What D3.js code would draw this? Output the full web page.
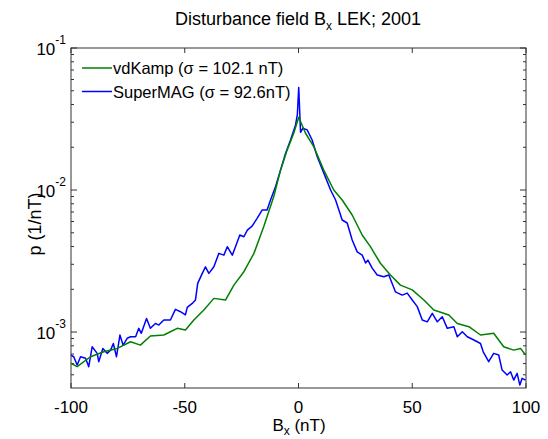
<!DOCTYPE html>
<html>
<head>
<meta charset="utf-8">
<script src="https://cdn.jsdelivr.net/npm/d3@7"></script>
<style>
  body { margin: 0; background: white; }
  text { font-family: "Liberation Sans", Arial, Helvetica, sans-serif; fill: #000; }
</style>
</head>
<body>
<div id="container"></div>
<script>
let w = 548;
let h = 439;

// vdKamp distribution (green)
let bxKamp = [-100, -97.3, -91.4, -85.6, -79.7, -73.8, -69.5, -65.1, -59.2, -56.3, -53.3, -49.7,
  -46.0, -41.6, -37.2, -32.1, -28.4, -24.0, -19.6, -15.3, -10.9, -7.9, -5.0, -2.1, 0.1,
  3.1, 6.7, 11.1, 15.5, 19.2, 23.6, 28.0, 31.6, 36.0, 40.4, 44.8, 50.0, 55.1, 59.5, 66.1,
  69.8, 74.9, 80.0, 85.8, 90.2, 94.6, 97.6, 99.8];
let pKamp = [6.02e-4, 5.70e-4, 6.70e-4, 7.26e-4, 7.67e-4, 8.55e-4, 8.09e-4, 9.37e-4, 9.53e-4, 1.005e-3, 1.062e-3, 1.033e-3,
  1.216e-3, 1.43e-3, 1.726e-3, 1.68e-3, 2.14e-3, 2.66e-3, 3.58e-3, 5.52e-3, 8.97e-3, 1.38e-2, 1.91e-2, 2.51e-2, 3.25e-2,
  2.51e-2, 2.02e-2, 1.38e-2, 1.0e-2, 8.51e-3, 6.67e-3, 4.82e-3, 3.99e-3, 3.05e-3, 2.52e-3, 2.14e-3, 1.98e-3, 1.68e-3, 1.43e-3, 1.32e-3,
  1.15e-3, 1.09e-3, 9.53e-4, 9.8e-4, 7.87e-4, 7.46e-4, 7.67e-4, 6.89e-4];

// SuperMAG distribution (blue)
let bxMag = [-100, -98.8, -97.3, -95.8, -93.6, -92.2, -90.7, -88.5, -87.8, -86.0, -84.1, -82.6, -81.4, -80.0,
  -78.5, -77.1, -75.3, -73.8, -71.6, -70.2, -69.1, -66.8, -65.1, -62.9, -61.4, -59.2, -56.3, -54.1, -51.9,
  -49.7, -48.9, -46.7, -45.3, -44.3, -42.3, -40.9, -39.4, -37.2, -35.0, -32.8, -31.3, -29.1, -27.7, -25.8,
  -24.0, -22.5, -20.4, -18.2, -16.0, -13.8, -12.3, -10.1, -7.9, -5.7, -3.5, -1.3, -0.5, 0.1, 0.9,
  1.9, 3.8, 6.0, 8.2, 11.1, 14.1, 16.3, 19.2, 21.4, 23.6, 25.8, 28.0, 29.5, 30.5, 32.4, 34.6, 37.5, 39.7,
  42.6, 45.6, 47.8, 50.0, 52.2, 54.4, 56.6, 58.8, 61.0, 63.2, 65.4, 68.3, 69.8, 72.0, 74.2, 77.1, 80.0,
  81.2, 83.6, 85.8, 88.0, 89.5, 91.7, 93.2, 94.6, 96.1, 97.3, 98.3, 99.8];
let pMag = [6.89e-4, 6.70e-4, 5.86e-4, 6.70e-4, 6.53e-4, 5.70e-4, 7.87e-4, 7.08e-4, 6.18e-4, 7.67e-4, 7.08e-4, 7.46e-4, 8.31e-4, 6.70e-4,
  9.53e-4, 8.09e-4, 9.04e-4, 9.27e-4, 9.27e-4, 1.062e-3, 9.80e-4, 1.247e-3, 1.062e-3, 1.15e-3, 1.12e-3, 1.216e-3, 1.216e-3, 1.445e-3, 1.39e-3,
  1.32e-3, 1.49e-3, 1.59e-3, 1.68e-3, 2.20e-3, 2.59e-3, 2.88e-3, 2.59e-3, 2.88e-3, 3.58e-3, 3.48e-3, 3.99e-3, 3.48e-3, 3.99e-3, 4.82e-3,
  4.69e-3, 5.22e-3, 5.57e-3, 6.32e-3, 7.23e-3, 7.23e-3, 8.51e-3, 1.054e-2, 1.38e-2, 1.81e-2, 2.25e-2, 2.87e-2, 3.4e-2, 5.28e-2, 2.55e-2,
  2.72e-2, 2.65e-2, 2.25e-2, 1.72e-2, 1.32e-2, 1.0e-2, 8.51e-3, 6.15e-3, 5.86e-3, 4.45e-3, 3.67e-3, 3.48e-3, 3.06e-3, 3.21e-3, 2.82e-3, 2.52e-3, 2.45e-3, 2.52e-3,
  1.92e-3, 1.82e-3, 1.88e-3, 1.68e-3, 1.51e-3, 1.216e-3, 1.18e-3, 1.355e-3, 1.18e-3, 1.28e-3, 1.062e-3, 1.09e-3, 9.27e-4, 1.005e-3, 9.27e-4, 8.79e-4, 8.31e-4,
  7.26e-4, 6.18e-4, 7.08e-4, 6.89e-4, 5.40e-4, 4.98e-4, 5.25e-4, 4.59e-4, 5.12e-4, 4.23e-4, 4.72e-4, 4.59e-4];

let xTicks = [-100, -50, 0, 50, 100];
let yTicks = [-1, -2, -3]; // exponents of 10

let legendNames = ["vdKamp (\u03c3 = 102.1 nT)", "SuperMAG (\u03c3 = 92.6nT)"];
let colors = ["#008000", "#0000ff"];

let viz = d3.select("#container")
  .append("svg")
    .attr("width", w)
    .attr("height", h)
    .style("background-color", "white")
;

let plotLeft = 71, plotRight = 526, plotTop = 48, plotBottom = 388;

let xScale = d3.scaleLinear().domain([-100, 100]).range([plotLeft, plotRight]);
let yScale = d3.scaleLog().domain([Math.pow(10, -3.394), 0.1]).range([plotBottom, plotTop]);

// minor log ticks
let minor = [];
for (let e = -4; e <= -2; e++) {
  for (let m = 2; m <= 9; m++) {
    let v = m * Math.pow(10, e);
    if (v >= yScale.domain()[0] && v <= 0.1) minor.push(v);
  }
}

let axisColor = "#333";
let grid = viz.append("g");

// y ticks, left and right, pointing in
grid.selectAll(".ymin").data(minor).enter().append("path")
  .attr("d", d => "M" + plotLeft + "," + yScale(d) + "h3M" + plotRight + "," + yScale(d) + "h-3")
  .attr("stroke", axisColor).attr("stroke-width", 1);
grid.selectAll(".ymaj").data(yTicks).enter().append("path")
  .attr("d", d => "M" + plotLeft + "," + yScale(Math.pow(10, d)) + "h6M" + plotRight + "," + yScale(Math.pow(10, d)) + "h-6")
  .attr("stroke", axisColor).attr("stroke-width", 1);
// x ticks top and bottom
grid.selectAll(".xmaj").data(xTicks).enter().append("path")
  .attr("d", d => "M" + xScale(d) + "," + plotBottom + "v-5M" + xScale(d) + "," + plotTop + "v5")
  .attr("stroke", axisColor).attr("stroke-width", 1);

// box
viz.append("rect")
  .attr("x", plotLeft).attr("y", plotTop)
  .attr("width", plotRight - plotLeft).attr("height", plotBottom - plotTop)
  .attr("fill", "none").attr("stroke", axisColor).attr("stroke-width", 1);

// tick labels
viz.selectAll(".xlab").data(xTicks).enter().append("text")
  .attr("x", d => xScale(d)).attr("y", 413)
  .attr("text-anchor", "middle").attr("font-size", 17)
  .text(d => d);

let ylabs = viz.selectAll(".ylab").data(yTicks).enter().append("text")
  .attr("x", 66).attr("y", d => yScale(Math.pow(10, d)) + 7)
  .attr("text-anchor", "end").attr("font-size", 17);
ylabs.append("tspan").text("10");
ylabs.append("tspan").attr("dy", -11).attr("font-size", 12).text(d => d);

// curves
let line = d3.line()
  .x(d => xScale(d[0]))
  .y(d => yScale(d[1]));

let series = [d3.zip(bxKamp, pKamp), d3.zip(bxMag, pMag)];

viz.append("g").selectAll("path").data([series[1], series[0]]).enter().append("path")
  .attr("d", line)
  .attr("fill", "none")
  .attr("stroke", (d, i) => i == 0 ? colors[1] : colors[0])
  .attr("stroke-width", 1.5)
  .attr("stroke-linejoin", "round");

// legend
let leg = viz.selectAll(".leg").data(legendNames).enter().append("g")
  .attr("transform", (d, i) => "translate(82," + (68 + i * 23.5) + ")");
leg.append("line").attr("x1", 0).attr("x2", 30)
  .attr("stroke", (d, i) => colors[i]).attr("stroke-width", 1.5);
leg.append("text").attr("x", 31).attr("y", 6).attr("font-size", 16.5).text(d => d);

// title
let title = viz.append("text").attr("x", 298).attr("y", 25)
  .attr("text-anchor", "middle").attr("font-size", 18);
title.append("tspan").text("Disturbance field B");
title.append("tspan").attr("dy", 5).attr("font-size", 12).text("x");
title.append("tspan").attr("dy", -5).text(" LEK; 2001");

// axis labels
let xl = viz.append("text").attr("x", 299).attr("y", 431)
  .attr("text-anchor", "middle").attr("font-size", 17);
xl.append("tspan").text("B");
xl.append("tspan").attr("dy", 4).attr("font-size", 12).text("x");
xl.append("tspan").attr("dy", -4).text(" (nT)");

viz.append("text")
  .attr("transform", "translate(41,224) rotate(-90)")
  .attr("text-anchor", "middle").attr("font-size", 18)
  .text("p (1/nT)");
</script>
</body>
</html>
